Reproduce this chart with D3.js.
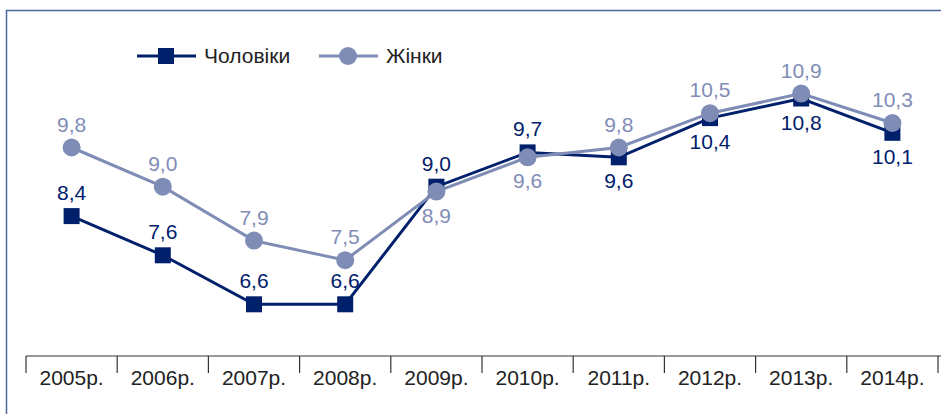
<!DOCTYPE html>
<html lang="uk">
<head>
    <meta charset="UTF-8">
    <title>Чоловіки / Жінки</title>
    <style>
        body {
            margin: 0;
            background: #fff;
        }
        svg {
            display: block;
            font-family: "Liberation Sans", Arial, sans-serif;
        }
    </style>
</head>
<body>
<div id="chart"></div>

<script src="https://d3js.org/d3.v7.min.js"></script>
<script>
    // data
    const years = ["2005р.", "2006р.", "2007р.", "2008р.", "2009р.", "2010р.", "2011р.", "2012р.", "2013р.", "2014р."];
    const men = [8.4, 7.6, 6.6, 6.6, 9.0, 9.7, 9.6, 10.4, 10.8, 10.1];
    const women = [9.8, 9.0, 7.9, 7.5, 8.9, 9.6, 9.8, 10.5, 10.9, 10.3];
    // where each value label sits: -1 above the marker, 1 below
    const menLabelSide = [-1, -1, -1, -1, -1, -1, 1, 1, 1, 1];
    const womenLabelSide = [-1, -1, -1, -1, 1, 1, -1, -1, -1, -1];

    const width = 941, height = 414;
    const menColor = "#00206b", womenColor = "#7f8db6";
    const fontSize = 21;

    const svg = d3.select("#chart").append("svg")
        .attr("width", width)
        .attr("height", height);

    // frame (top and left edge only visible)
    svg.append("path")
        .attr("d", `M6.5,${height} V10.5 H${width}`)
        .attr("fill", "none")
        .attr("stroke", "#4d6a9c")
        .attr("stroke-width", 1.5);

    const x = d3.scaleBand().domain(years).range([26, 938]).padding(0);
    const y = d3.scaleLinear().domain([6.6, 10.9]).range([304.3, 93.6]);
    const axisY = 356;

    // x axis: line, boundary ticks, labels
    const axis = svg.append("g").attr("transform", `translate(0,${axisY})`);
    axis.append("line")
        .attr("x1", 26).attr("x2", width)
        .attr("stroke", "#333").attr("stroke-width", 1.2);
    axis.selectAll(".bound")
        .data(d3.range(years.length + 1))
        .enter().append("line")
        .attr("x1", i => 26 + i * x.step())
        .attr("x2", i => 26 + i * x.step())
        .attr("y1", 0).attr("y2", 17)
        .attr("stroke", "#333").attr("stroke-width", 1.2);
    axis.selectAll(".lab")
        .data(years)
        .enter().append("text")
        .attr("x", d => x(d) + x.bandwidth() / 2)
        .attr("y", 29)
        .attr("text-anchor", "middle")
        .attr("font-size", fontSize)
        .attr("fill", "#222")
        .text(d => d);

    const cx = i => x(years[i]) + x.bandwidth() / 2;
    const line = d3.line().x((d, i) => cx(i)).y(d => y(d));

    svg.append("path").datum(men)
        .attr("d", line).attr("fill", "none")
        .attr("stroke", menColor).attr("stroke-width", 3);
    svg.append("path").datum(women)
        .attr("d", line).attr("fill", "none")
        .attr("stroke", womenColor).attr("stroke-width", 3);

    svg.selectAll(".sq").data(men).enter().append("rect")
        .attr("x", (d, i) => cx(i) - 8)
        .attr("y", d => y(d) - 8)
        .attr("width", 16).attr("height", 16)
        .attr("fill", menColor);
    svg.selectAll(".ci").data(women).enter().append("circle")
        .attr("cx", (d, i) => cx(i))
        .attr("cy", d => y(d))
        .attr("r", 9)
        .attr("fill", womenColor);

    const fmt = v => d3.format(".1f")(v).replace(".", ",");

    function labels(vals, sides, color) {
        svg.selectAll(null).data(vals).enter().append("text")
            .attr("x", (d, i) => cx(i))
            .attr("y", (d, i) => y(d) + (sides[i] < 0 ? -16 : 31))
            .attr("text-anchor", "middle")
            .attr("font-size", fontSize)
            .attr("fill", color)
            .text(fmt);
    }
    labels(men, menLabelSide, menColor);
    labels(women, womenLabelSide, womenColor);

    // legend
    const leg = svg.append("g").attr("transform", "translate(0,56)");
    leg.append("line").attr("x1", 137).attr("x2", 196)
        .attr("stroke", menColor).attr("stroke-width", 3);
    leg.append("rect").attr("x", 158).attr("y", -8).attr("width", 16).attr("height", 16)
        .attr("fill", menColor);
    leg.append("text").attr("x", 204).attr("y", 7)
        .attr("font-size", fontSize).attr("fill", "#222").text("Чоловіки");
    leg.append("line").attr("x1", 319).attr("x2", 378)
        .attr("stroke", womenColor).attr("stroke-width", 3);
    leg.append("circle").attr("cx", 348).attr("cy", 0).attr("r", 9)
        .attr("fill", womenColor);
    leg.append("text").attr("x", 386).attr("y", 7)
        .attr("font-size", fontSize).attr("fill", "#222").text("Жінки");
</script>
</body>
</html>
